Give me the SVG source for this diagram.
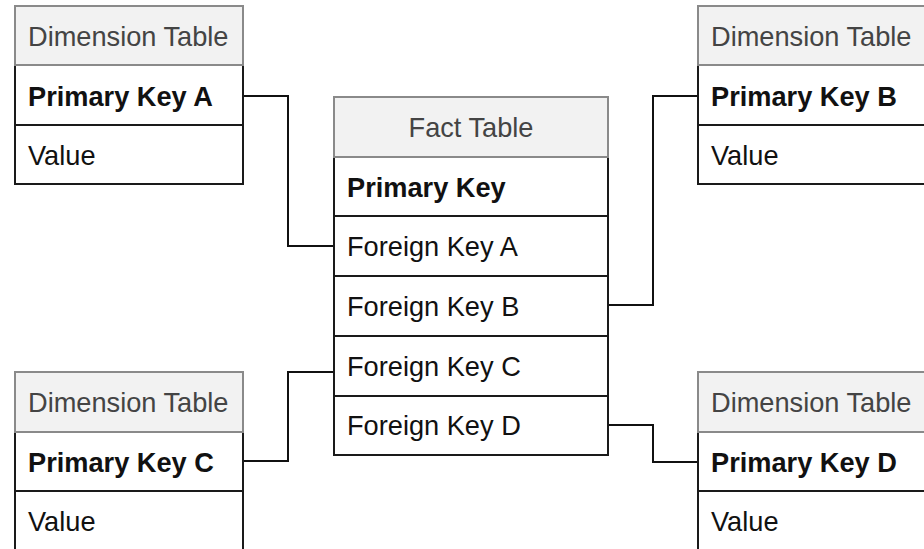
<svg xmlns="http://www.w3.org/2000/svg" width="924" height="549" viewBox="0 0 924 549">
  <style>
    .hdr { fill: #f2f2f2; stroke: #8a8a8a; stroke-width: 2; }
    .row { fill: #ffffff; stroke: #1a1a1a; stroke-width: 2; }
    .htxt { font-family: "Liberation Sans", Arial, sans-serif; font-size: 27.2px; fill: #444444; }
    .txt { font-family: "Liberation Sans", Arial, sans-serif; font-size: 27.2px; fill: #111111; }
    .key { font-weight: bold; }
    .link { fill: none; stroke: #111111; stroke-width: 2; }
  </style>
  <rect width="924" height="549" fill="#ffffff"/>

  <!-- relationships between keys -->
  <g id="connectors">
    <path class="link" d="M243,96 H288 V246 H334"/>
    <path class="link" d="M608,305 H653 V96 H698"/>
    <path class="link" d="M243,461 H288 V372 H334"/>
    <path class="link" d="M608,425 H653 V462 H698"/>
  </g>

  <!-- dimension table A -->
  <g id="dim-a">
    <rect class="row" x="15" y="125" width="228" height="59"/>
    <rect class="row" x="15" y="65" width="228" height="60"/>
    <rect class="hdr" x="15" y="6" width="228" height="59"/>
    <text class="htxt" x="28" y="46">Dimension Table</text>
    <text class="txt key" x="28" y="106">Primary Key A</text>
    <text class="txt" x="28" y="165">Value</text>
  </g>

  <!-- dimension table B -->
  <g id="dim-b">
    <rect class="row" x="698" y="125" width="228" height="59"/>
    <rect class="row" x="698" y="65" width="228" height="60"/>
    <rect class="hdr" x="698" y="6" width="228" height="59"/>
    <text class="htxt" x="711" y="46">Dimension Table</text>
    <text class="txt key" x="711" y="106">Primary Key B</text>
    <text class="txt" x="711" y="165">Value</text>
  </g>

  <!-- dimension table C -->
  <g id="dim-c">
    <rect class="row" x="15" y="491" width="228" height="60"/>
    <rect class="row" x="15" y="432" width="228" height="59"/>
    <rect class="hdr" x="15" y="372" width="228" height="60"/>
    <text class="htxt" x="28" y="412">Dimension Table</text>
    <text class="txt key" x="28" y="472">Primary Key C</text>
    <text class="txt" x="28" y="531">Value</text>
  </g>

  <!-- dimension table D -->
  <g id="dim-d">
    <rect class="row" x="698" y="491" width="228" height="60"/>
    <rect class="row" x="698" y="432" width="228" height="59"/>
    <rect class="hdr" x="698" y="372" width="228" height="60"/>
    <text class="htxt" x="711" y="412">Dimension Table</text>
    <text class="txt key" x="711" y="472">Primary Key D</text>
    <text class="txt" x="711" y="531">Value</text>
  </g>

  <!-- fact table -->
  <g id="fact">
    <rect class="row" x="334" y="157" width="274" height="59"/>
    <rect class="row" x="334" y="216" width="274" height="60"/>
    <rect class="row" x="334" y="276" width="274" height="60"/>
    <rect class="row" x="334" y="336" width="274" height="60"/>
    <rect class="row" x="334" y="396" width="274" height="59"/>
    <rect class="hdr" x="334" y="97" width="274" height="60"/>
    <text class="htxt" x="471" y="137" text-anchor="middle">Fact Table</text>
    <text class="txt key" x="347" y="197">Primary Key</text>
    <text class="txt" x="347" y="256">Foreign Key A</text>
    <text class="txt" x="347" y="316">Foreign Key B</text>
    <text class="txt" x="347" y="376">Foreign Key C</text>
    <text class="txt" x="347" y="435">Foreign Key D</text>
  </g>
</svg>
